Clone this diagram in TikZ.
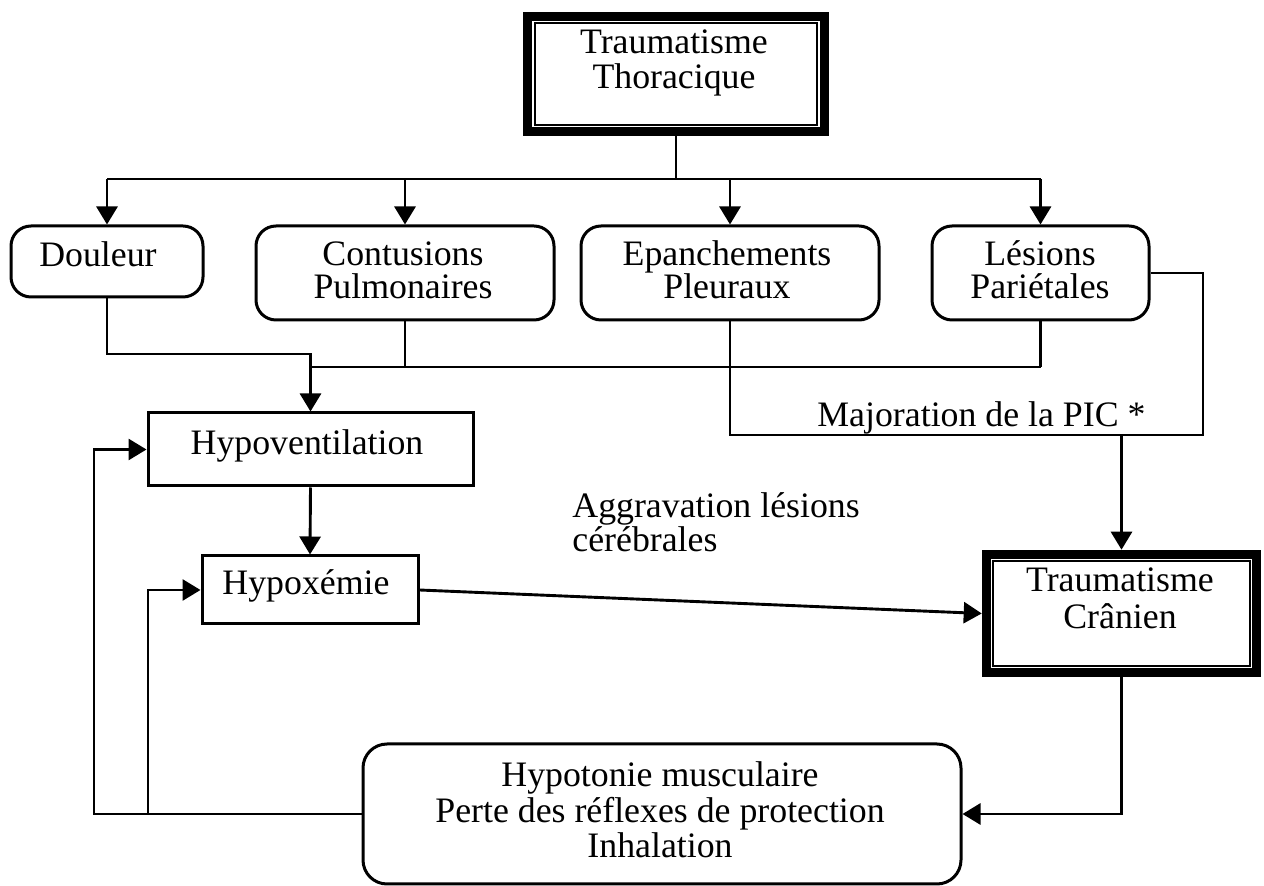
\documentclass[tikz,border=0pt]{standalone}
\usepackage{fontspec}
\setmainfont{Liberation Serif}
\usetikzlibrary{arrows.meta,calc}
\tikzset{
  ln/.style={line width=1.45pt},
  arr/.style={ln,-{Triangle[length=9pt,width=10.5pt]}},
  sqbox/.style={draw,line width=1.5pt,rectangle,inner sep=0pt},
  rbox/.style={sqbox,rounded corners=10pt},
  heavybox/.style={draw,line width=4.8pt,rectangle,inner sep=0pt},
  txt/.style={inner sep=0pt,anchor=base,font=\fontsize{17.9pt}{17.5pt}\selectfont},
  txtl/.style={txt,anchor=base west}
}
\begin{document}
\begin{tikzpicture}[x=0.5pt,y=-0.5pt]
\useasboundingbox (0,0) rectangle (1264,886);

% boxes
\node[heavybox,minimum width=148.5pt,minimum height=57.5pt] (T) at (676,74) {};
\node[heavybox,minimum width=135pt,minimum height=59pt] (C) at (1121.5,613.5) {};
\node[rbox,minimum width=96pt,minimum height=35.5pt] (D) at (107,261.5) {};
\node[rbox,minimum width=149pt,minimum height=47pt] (P) at (405,273) {};
\node[rbox,minimum width=149pt,minimum height=47pt] (E) at (730,273) {};
\node[rbox,minimum width=108.5pt,minimum height=47pt] (L) at (1040.5,273) {};
\node[sqbox,minimum width=162.5pt,minimum height=36.5pt] (V) at (310.5,449.5) {};
\node[sqbox,minimum width=108pt,minimum height=34pt] (X) at (310,590) {};
\node[rbox,rounded corners=12pt,minimum width=299pt,minimum height=70pt] (B) at (662,814) {};

% inner thin frames of the heavy boxes
\draw[line width=1pt] ($(T.north west)+(12,11)$) rectangle ($(T.south east)+(-12,-11)$);
\draw[line width=1pt] ($(C.north west)+(11,11)$) rectangle ($(C.south east)+(-11,-11)$);

% texts
\node[txt] (t1) at (674,54) {Traumatisme};
\node[txt] (t2) at (674,89) {Thoracique};
\node[txt] (d1) at (98,267) {Douleur};
\node[txt] (p1) at (403,266) {Contusions};
\node[txt] (p2) at (403,299) {Pulmonaires};
\node[txt] (e1) at (727,266) {Epanchements};
\node[txt] (e2) at (727,299) {Pleuraux};
\node[txt] (l1) at (1040,266) {Lésions};
\node[txt] (l2) at (1040,299) {Pariétales};
\node[txt] (v1) at (307,455) {Hypoventilation};
\node[txt] (x1) at (306,595) {Hypoxémie};
\node[txtl] (m1) at (817,427) {Majoration de la PIC *};
\node[txtl] (a1) at (572,518) {Aggravation lésions};
\node[txtl] (a2) at (572,552) {cérébrales};
\node[txt] (c1) at (1120,592) {Traumatisme};
\node[txt] (c2) at (1120,629) {Crânien};
\node[txt] (b1) at (660,787) {Hypotonie musculaire};
\node[txt] (b2) at (660,823) {Perte des réflexes de protection};
\node[txt] (b3) at (660,858) {Inhalation};

% helper coordinates
\coordinate (bus) at (0,179);
\coordinate (y354) at (0,354);
\coordinate (y367) at (0,367);
\coordinate (r435) at (1203,435);
\coordinate (fb1) at (94,0);
\coordinate (fb2) at (148,0);

% top distribution
\draw[ln] (T.south) -- (T.south |- bus);
\draw[ln] (D.north |- bus) -- (L.north |- bus);
\draw[arr] (D.north |- bus) -- (D.north);
\draw[arr] (P.north |- bus) -- (P.north);
\draw[arr] (E.north |- bus) -- (E.north);
\draw[arr] (L.north |- bus) -- (L.north);

% to hypoventilation
\draw[arr] (D.south) -- (D.south |- y354) -- (V.north |- y354) -- (V.north);
\draw[ln] (P.south) -- (P.south |- y367);
\draw[ln] (L.south) -- (L.south |- y367);
\draw[ln] (V.north |- y367) -- (L.south |- y367);

% to trauma cranien (PIC)
\draw[ln] (L.east) -| (r435) -- (E.south |- r435) -- (E.south);
\draw[arr] (C.north |- r435) -- (C.north);

% main chain
\draw[arr] (V.south) -- (X.north);
\draw[arr] (X.east) -- (C.west);
\draw[arr] (C.south) |- (B.east);

% feedback loops
\draw[arr] (B.west) -- (B.west -| fb1) |- (V.west);
\draw[arr] (B.west -| fb2) |- (X.west);
\end{tikzpicture}
\end{document}
